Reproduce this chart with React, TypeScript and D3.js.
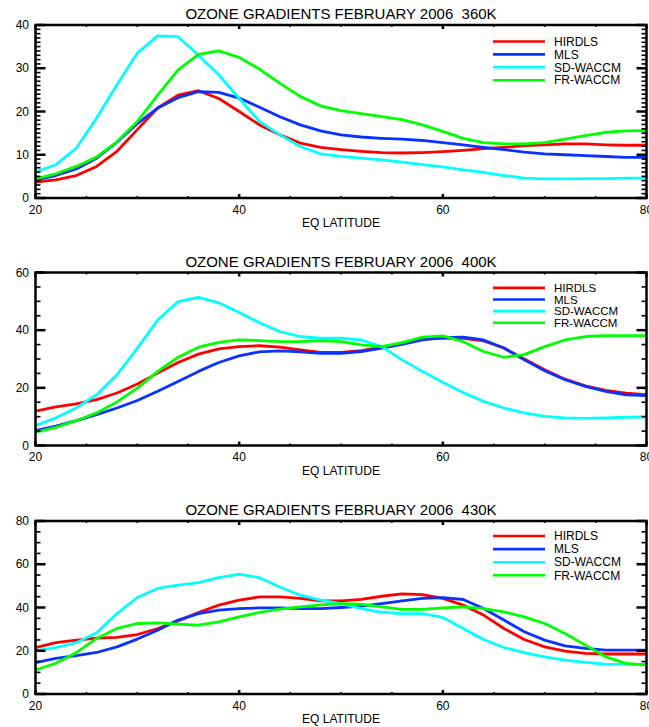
import React from "react";
import * as d3 from "d3";

// ---------------- DATA ----------------
const latitudes = [20, 22, 24, 26, 28, 30, 32, 34, 36, 38, 40, 42, 44, 46, 48, 50, 52, 54, 56, 58, 60, 62, 64, 66, 68, 70, 72, 74, 76, 78, 80];

const xMajorTicks = [20, 40, 60, 80];
const xMinorTicks = [25, 30, 35, 45, 50, 55, 65, 70, 75];

const seriesNames = ["HIRDLS", "MLS", "SD-WACCM", "FR-WACCM"];
const seriesColors = ["#ff0000", "#0a32ff", "#00ffff", "#00ff00"];

const panelTitles = [
  "OZONE GRADIENTS FEBRUARY 2006  360K",
  "OZONE GRADIENTS FEBRUARY 2006  400K",
  "OZONE GRADIENTS FEBRUARY 2006  430K",
];
const xAxisTitle = "EQ LATITUDE";

const panelYMax = [40, 60, 80];
const panelYMajorTicks = [
  [0, 10, 20, 30, 40],
  [0, 20, 40, 60],
  [0, 20, 40, 60, 80],
];
const panelYMinorStep = [1, 5, 5];

// 360K
const hirdls360 = [3.7, 4.2, 5.2, 7.3, 10.8, 15.8, 20.8, 23.8, 24.8, 23, 20, 16.9, 14.6, 12.7, 11.7, 11.2, 10.8, 10.5, 10.4, 10.5, 10.7, 11, 11.4, 11.7, 12.1, 12.3, 12.5, 12.5, 12.3, 12.2, 12.2];
const mls360 = [4.2, 5.2, 6.7, 9.2, 12.9, 17.2, 20.8, 23.2, 24.6, 24.4, 23.1, 21, 18.8, 16.9, 15.5, 14.6, 14.1, 13.8, 13.6, 13.3, 12.8, 12.3, 11.7, 11.2, 10.6, 10.2, 10, 9.8, 9.6, 9.4, 9.4];
const sdwaccm360 = [6.0, 7.7, 11.5, 18.5, 26.2, 33.5, 37.5, 37.3, 33, 28.5, 23, 17.7, 14.6, 11.9, 10.2, 9.6, 9.2, 8.8, 8.3, 7.7, 7.2, 6.5, 5.9, 5.2, 4.6, 4.4, 4.4, 4.5, 4.5, 4.6, 4.6];
const frwaccm360 = [4.4, 5.6, 7.3, 9.5, 13, 17.7, 23.8, 29.6, 33.2, 34, 32.5, 29.8, 26.5, 23.5, 21.3, 20.2, 19.5, 18.8, 18.1, 16.9, 15.4, 13.8, 12.8, 12.5, 12.5, 12.8, 13.6, 14.4, 15.2, 15.5, 15.6];

// 400K
const hirdls400 = [11.9, 13.4, 14.4, 15.9, 18.2, 21.3, 25.1, 28.8, 31.7, 33.5, 34.3, 34.6, 34.1, 33.2, 32.3, 32.3, 32.9, 34.1, 35.5, 36.9, 37.2, 37.2, 36.3, 33.8, 30, 26.3, 23, 20.7, 19.1, 18.2, 17.6];
const mls400 = [5.2, 6.7, 8.6, 10.7, 13, 15.6, 18.8, 22.2, 25.7, 28.8, 31.1, 32.5, 32.8, 32.5, 32, 32, 32.6, 33.8, 35.1, 36.6, 37.4, 37.6, 36.6, 33.8, 29.7, 25.9, 22.8, 20.5, 18.8, 17.6, 17.3];
const sdwaccm400 = [6.9, 9.6, 13, 17.6, 24.5, 33.8, 43.5, 49.9, 51.4, 49.5, 46.1, 42.6, 39.5, 37.8, 37.2, 37.2, 36.6, 34.3, 29.7, 25.7, 21.9, 18.4, 15.3, 13, 11.3, 10.1, 9.6, 9.4, 9.6, 9.8, 9.9];
const frwaccm400 = [4.6, 6.3, 8.6, 11.3, 15.1, 19.9, 25.7, 30.6, 34.1, 35.8, 36.6, 36.4, 36, 36, 36.4, 36, 34.9, 34.3, 35.7, 37.6, 38, 36, 32.6, 30.6, 31.5, 34.3, 36.6, 37.8, 38.1, 38.1, 38.1];

// 430K
const hirdls430 = [21.4, 23.8, 24.9, 25.8, 26.2, 27.5, 30.3, 33.8, 37.7, 41.1, 43.4, 44.9, 44.9, 44.2, 43.1, 43.1, 43.8, 45.2, 46.3, 46, 44.2, 41.1, 36.5, 30.3, 25.2, 21.8, 19.8, 18.8, 18.5, 18.5, 18.5];
const mls430 = [14.5, 16.5, 17.7, 19.2, 21.8, 25.4, 29.5, 34.2, 37.2, 38.8, 39.5, 39.8, 39.8, 39.5, 39.5, 40, 40.6, 41.8, 43.1, 44.2, 44.6, 43.7, 39.5, 34.2, 28.8, 24.9, 22.3, 21.1, 20.3, 20.3, 20.3];
const sdwaccm430 = [20, 21.4, 23.7, 28.3, 37.2, 44.6, 48.8, 50.3, 51.5, 53.8, 55.4, 53.8, 49.5, 45.7, 43.4, 41.8, 39.5, 37.8, 37.2, 37.2, 35.4, 30.3, 25.2, 21.5, 19.1, 17.2, 15.7, 14.6, 13.8, 13.7, 13.7];
const frwaccm430 = [11.1, 14.2, 19.1, 25.7, 30.3, 32.6, 32.9, 32.3, 31.8, 33.4, 35.7, 37.7, 39.2, 40.3, 41.2, 41.8, 41.5, 40.3, 39.1, 39.1, 39.8, 40.3, 39.5, 38, 35.7, 32.6, 28, 22.6, 17.2, 14.2, 13.4];

const panelSeries = [
  [hirdls360, mls360, sdwaccm360, frwaccm360],
  [hirdls400, mls400, sdwaccm400, frwaccm400],
  [hirdls430, mls430, sdwaccm430, frwaccm430],
];

// ---------------- LAYOUT ----------------
const W = 649;
const H = 727;
const plotLeft = 35.5;
const plotRight = 646.5;
const plotHeight = 173;
const panelTops = [25, 272.5, 521];
const legendFirst = [16.5, 15.4, 15];
const legendGap = [12.9, 11.6, 13.1];
const FONT = "'Liberation Sans', Arial, Helvetica, sans-serif";

function Panel({ idx }: { idx: number }) {
  const top = panelTops[idx];
  const bottom = top + plotHeight;
  const x = d3.scaleLinear().domain([20, 80]).range([plotLeft, plotRight]);
  const y = d3.scaleLinear().domain([0, panelYMax[idx]]).range([bottom, top]);
  const line = d3
    .line<number>()
    .x((_, i) => x(latitudes[i]))
    .y((d) => y(d))
    .curve(d3.curveLinear);
  const yMinor = d3
    .range(0, panelYMax[idx] + 0.001, panelYMinorStep[idx])
    .filter((v) => !panelYMajorTicks[idx].includes(v));
  const clipId = `clip-${idx}`;
  const yMajLen = 10;
  const yMinLen = 5;
  const xMajLen = 4;
  const xMinLen = 2;
  const legX1 = 493;
  const legX2 = 545;
  const legTextX = 554;

  return (
    <g>
      <defs>
        <clipPath id={clipId}>
          <rect x={plotLeft} y={top} width={plotRight - plotLeft} height={plotHeight} />
        </clipPath>
      </defs>
      <text
        x={(plotLeft + plotRight) / 2}
        y={top - 6}
        textAnchor="middle"
        fontFamily={FONT}
        fontSize={15}
        fill="#000"
        style={{ whiteSpace: "pre" }}
        xmlSpace="preserve"
      >
        {panelTitles[idx]}
      </text>

      {/* data lines */}
      <g clipPath={`url(#${clipId})`}>
        {panelSeries[idx].map((s, k) => (
          <path
            key={k}
            d={line(s) || ""}
            fill="none"
            stroke={seriesColors[k]}
            strokeWidth={2.8}
            strokeLinejoin="round"
          />
        ))}
      </g>

      {/* legend */}
      {seriesNames.map((n, k) => {
        const ly = top + legendFirst[idx] + k * legendGap[idx];
        return (
          <g key={n}>
            <line x1={legX1} x2={legX2} y1={ly} y2={ly} stroke={seriesColors[k]} strokeWidth={2.6} />
            <text x={legTextX} y={ly + 4.2} fontFamily={FONT} fontSize={idx === 1 ? 11.5 : 12} fill="#000">
              {n}
            </text>
          </g>
        );
      })}

      {/* frame */}
      <rect
        x={plotLeft}
        y={top}
        width={plotRight - plotLeft}
        height={plotHeight}
        fill="none"
        stroke="#000"
        strokeWidth={2.5}
      />

      {/* y ticks */}
      {panelYMajorTicks[idx].map((v) => (
        <g key={`ym${v}`}>
          <line x1={plotLeft} x2={plotLeft + yMajLen} y1={y(v)} y2={y(v)} stroke="#000" strokeWidth={2.5} />
          <line x1={plotRight} x2={plotRight - yMajLen} y1={y(v)} y2={y(v)} stroke="#000" strokeWidth={2.5} />
          <text
            x={29}
            y={y(v) + 4.2}
            textAnchor="end"
            fontFamily={FONT}
            fontSize={12}
            fill="#000"
          >
            {v}
          </text>
        </g>
      ))}
      {yMinor.map((v) => (
        <g key={`yn${v}`}>
          <line x1={plotLeft} x2={plotLeft + yMinLen} y1={y(v)} y2={y(v)} stroke="#000" strokeWidth={1.6} />
          <line x1={plotRight} x2={plotRight - yMinLen} y1={y(v)} y2={y(v)} stroke="#000" strokeWidth={1.6} />
        </g>
      ))}

      {/* x ticks */}
      {xMajorTicks.map((v) => (
        <g key={`xm${v}`}>
          <line x1={x(v)} x2={x(v)} y1={bottom} y2={bottom - xMajLen} stroke="#000" strokeWidth={2.5} />
          <line x1={x(v)} x2={x(v)} y1={top} y2={top + xMajLen} stroke="#000" strokeWidth={2.5} />
          <text
            x={x(v)}
            y={bottom + 15.5}
            textAnchor="middle"
            fontFamily={FONT}
            fontSize={12}
            fill="#000"
          >
            {v}
          </text>
        </g>
      ))}
      {xMinorTicks.map((v) => (
        <g key={`xn${v}`}>
          <line x1={x(v)} x2={x(v)} y1={bottom} y2={bottom - xMinLen} stroke="#000" strokeWidth={1.6} />
          <line x1={x(v)} x2={x(v)} y1={top} y2={top + xMinLen} stroke="#000" strokeWidth={1.6} />
        </g>
      ))}
      <text
        x={(plotLeft + plotRight) / 2}
        y={bottom + 29}
        textAnchor="middle"
        fontFamily={FONT}
        fontSize={12}
        fill="#000"
      >
        {xAxisTitle}
      </text>
    </g>
  );
}

export default function App() {
  return (
    <svg
      width={W}
      height={H}
      viewBox={`0 0 ${W} ${H}`}
      style={{ position: "absolute", left: 0, top: 0, display: "block", background: "#fff" }}
    >
      <rect x={0} y={0} width={W} height={H} fill="#fff" />
      {[0, 1, 2].map((i) => (
        <Panel key={i} idx={i} />
      ))}
    </svg>
  );
}
